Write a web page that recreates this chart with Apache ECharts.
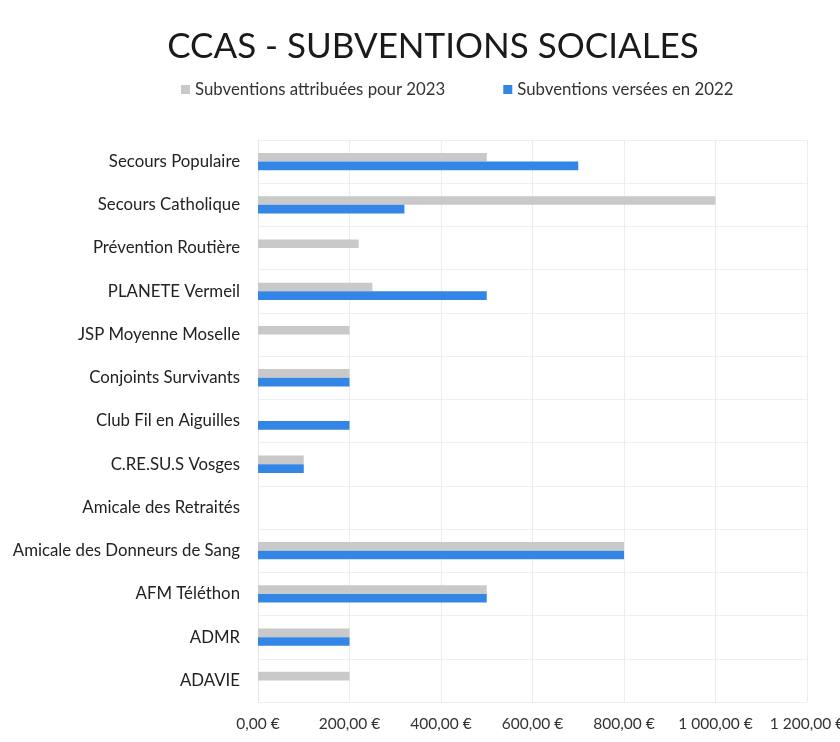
<!DOCTYPE html>
<html><head><meta charset="utf-8">
<script src="https://cdn.jsdelivr.net/npm/echarts@6/dist/echarts.min.js"></script>
<style>html,body{margin:0;padding:0;background:#fff}#c{width:840px;height:742px}</style>
</head><body><div id="c"></div>
<script>
const categories = ["Secours Populaire","Secours Catholique","Prévention Routière","PLANETE Vermeil","JSP Moyenne Moselle","Conjoints Survivants","Club Fil en Aiguilles","C.RE.SU.S Vosges","Amicale des Retraités","Amicale des Donneurs de Sang","AFM Téléthon","ADMR","ADAVIE"];
const attribuees2023 = [500,1000,220,250,200,200,0,100,0,800,500,200,200];
const versees2022 = [700,320,0,500,0,200,200,100,0,800,500,200,0];
const seriesNames = ["Subventions attribuées pour 2023","Subventions versées en 2022"];
const xTicks = [0,200,400,600,800,1000,1200];

const fmt = v => {
  const s = Math.round(v).toString().replace(/\B(?=(\d{3})+(?!\d))/g, ' ');
  return s + ',00 €';
};
const FONT = 'Lato';
const chart = echarts.init(document.getElementById('c'), null, {renderer:'canvas'});
chart.setOption({
  backgroundColor:'#fff',
  animation:false,
  title:{text:'CCAS - SUBVENTIONS SOCIALES', left:428, top:24,
    textAlign:'center',
    textStyle:{fontFamily:FONT, fontSize:35, fontWeight:'normal', color:'#1a1a1a'}},
  legend:{top:76, left:176, itemWidth:9, itemHeight:9, itemGap:58, icon:'rect',
    textStyle:{fontFamily:FONT, fontSize:16.8, color:'#333'},
    data:seriesNames},
  grid:{left:258, right:33, top:140, bottom:40, containLabel:false, outerBoundsMode:'none'},
  xAxis:{type:'value', min:xTicks[0], max:xTicks[xTicks.length-1], interval:200,
    axisLine:{show:false}, axisTick:{show:false},
    splitLine:{show:true, lineStyle:{color:'#ececec'}},
    axisLabel:{formatter:fmt, fontFamily:FONT, fontSize:15.5, color:'#333', margin:14}},
  yAxis:{type:'category', data:categories, inverse:true,
    axisLine:{show:true, lineStyle:{color:'#e6e6e6'}}, axisTick:{show:false},
    splitLine:{show:true, lineStyle:{color:'#efefef'}},
    axisLabel:{fontFamily:FONT, fontSize:16.8, color:'#222', margin:18}},
  series:[
    {name:seriesNames[0], type:'bar', data:attribuees2023, barGap:'0%', barCategoryGap:'60%',
      itemStyle:{color:'#c9c9c9'}},
    {name:seriesNames[1], type:'bar', data:versees2022, barGap:'0%', barCategoryGap:'60%',
      itemStyle:{color:'#3385e6'}}
  ]
});
</script></body></html>
